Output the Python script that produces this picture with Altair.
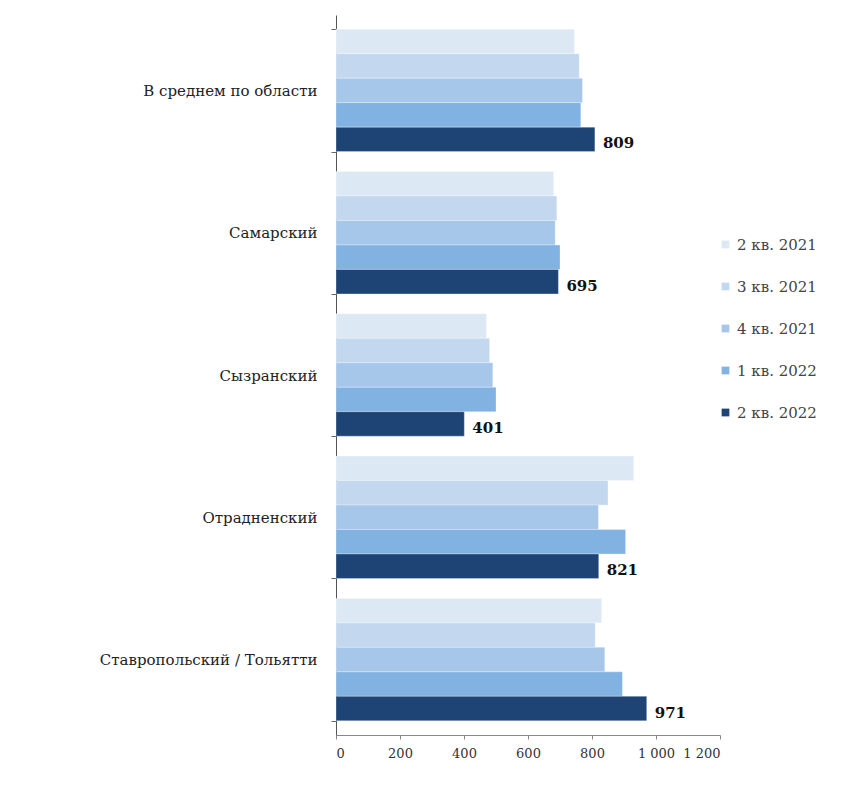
import altair as alt
import pandas as pd

# Districts (top to bottom) and reporting quarters
categories = [
    "В среднем по области",
    "Самарский",
    "Сызранский",
    "Отрадненский",
    "Ставропольский / Тольятти",
]
quarters = ["2 кв. 2021", "3 кв. 2021", "4 кв. 2021", "1 кв. 2022", "2 кв. 2022"]

# Values per quarter, one entry per district
q2_2021 = [745, 680, 470, 930, 830]
q3_2021 = [760, 690, 480, 850, 810]
q4_2021 = [770, 685, 490, 820, 840]
q1_2022 = [765, 700, 500, 905, 895]
q2_2022 = [809, 695, 401, 821, 971]

colors = ["#dce8f4", "#c3d8ef", "#a6c6ea", "#82b2e2", "#1d4475"]

series = [q2_2021, q3_2021, q4_2021, q1_2022, q2_2022]
rows = []
for q, vals in zip(quarters, series):
    for c, v in zip(categories, vals):
        rows.append({"category": c, "quarter": q, "value": v})
df = pd.DataFrame(rows)

SERIF = "DejaVu Serif"

y_enc = alt.Y(
    "category:N",
    sort=categories,
    title=None,
    scale=alt.Scale(paddingInner=0.14, paddingOuter=0.1),
    axis=alt.Axis(
        labelFont=SERIF,
        labelFontSize=15,
        labelColor="#222222",
        labelPadding=14,
        tickBand="extent",
        tickSize=5,
        tickColor="#666666",
        domainColor="#555555",
        labelLimit=330,
        grid=False,
    ),
)
x_enc = alt.X(
    "value:Q",
    title=None,
    scale=alt.Scale(domain=[0, 1200], nice=False),
    axis=alt.Axis(
        values=[0, 200, 400, 600, 800, 1000, 1200],
        labelExpr="replace(format(datum.value, ','), ',', ' ')",
        labelFont=SERIF,
        labelFontSize=13,
        labelColor="#333333",
        labelPadding=8,
        grid=False,
        tickSize=4,
        tickColor="#888888",
        domainColor="#888888",
    ),
)
yoff = alt.YOffset("quarter:N", sort=quarters, scale=alt.Scale(paddingInner=0.0))

bars = alt.Chart(df).mark_bar(stroke="#ffffff", strokeWidth=0.3).encode(
    y=y_enc,
    x=x_enc,
    yOffset=yoff,
    color=alt.Color(
        "quarter:N",
        sort=quarters,
        scale=alt.Scale(domain=quarters, range=colors),
        legend=alt.Legend(
            title=None,
            orient="none",
            legendX=382,
            legendY=222,
            labelFont=SERIF,
            labelFontSize=15,
            labelColor="#444444",
            symbolType="square",
            symbolSize=60,
            symbolStrokeWidth=0,
            rowPadding=26,
        ),
    ),
)

labels = (
    alt.Chart(df)
    .transform_filter(alt.datum.quarter == "2 кв. 2022")
    .mark_text(align="left", baseline="middle", dx=8, dy=4,
               font=SERIF, fontSize=15, fontWeight="bold", color="#111111")
    .encode(y=y_enc, x=x_enc, yOffset=yoff, text=alt.Text("value:Q"))
)

chart = (
    alt.layer(bars, labels)
    .properties(
        width=384,
        height=720,
        autosize=alt.AutoSizeParams(type="none"),
        padding={"left": 336, "top": 15, "right": 137, "bottom": 53},
        view=alt.ViewBackground(stroke="transparent", strokeWidth=0, strokeOpacity=0),
    )
    .configure_view(stroke="transparent", strokeWidth=0, strokeOpacity=0)
    .configure_axis(grid=False)
    .configure(background="#ffffff")
)

chart.save("out.html", embed_options={"renderer": "svg", "actions": False})
